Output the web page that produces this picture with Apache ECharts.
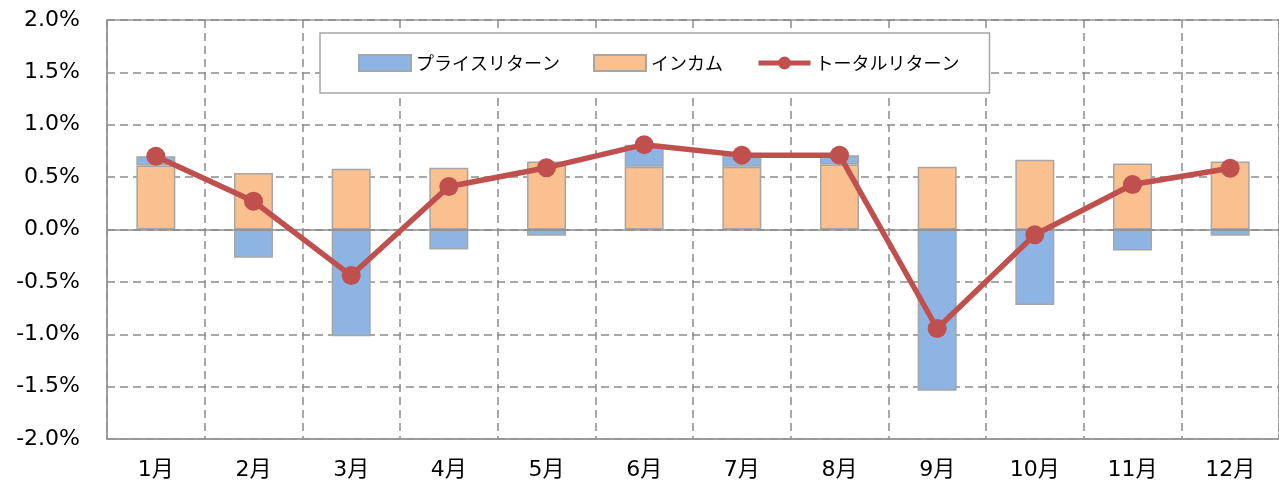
<!DOCTYPE html>
<html>
<head>
<meta charset="utf-8">
<script src="https://cdn.jsdelivr.net/npm/echarts@6/dist/echarts.min.js"></script>
<style>
html, body { margin: 0; padding: 0; background: #fff; }
#chart { width: 1279px; height: 491px; }
</style>
</head>
<body>
<div id="chart"></div>
<script>
// months
var months = ['1月', '2月', '3月', '4月', '5月', '6月', '7月', '8月', '9月', '10月', '11月', '12月'];
// values in %
var income = [0.61, 0.54, 0.58, 0.59, 0.65, 0.60, 0.60, 0.62, 0.60, 0.665, 0.63, 0.65];
var price = [0.09, -0.27, -1.02, -0.19, -0.06, 0.21, 0.11, 0.09, -1.54, -0.72, -0.20, -0.06];
var total = [0.70, 0.27, -0.44, 0.41, 0.59, 0.81, 0.71, 0.71, -0.945, -0.05, 0.43, 0.585];

var names = ['プライスリターン', 'インカム', 'トータルリターン'];

var chart = echarts.init(document.getElementById('chart'));

var font = "'DejaVu Sans', 'Noto Sans CJK JP', sans-serif";
var gridColor = '#8c8c8c';
var barBorder = '#a6a6a6';

option = {
    animation: false,
    textStyle: { fontFamily: font },
    legend: {
        data: [
            { name: names[0], icon: 'rect' },
            { name: names[1], icon: 'rect' },
            { name: names[2], lineStyle: { width: 5 } }
        ],
        left: 320,
        top: 33,
        padding: [21, 30, 21, 38],
        itemWidth: 52,
        itemHeight: 16,
        itemGap: 33,
        borderColor: '#a6a6a6',
        borderWidth: 1.5,
        backgroundColor: '#fff',
        textStyle: {
            fontFamily: "'Noto Sans CJK JP', sans-serif",
            fontSize: 18,
            color: '#000'
        }
    },
    grid: {
        left: 107,
        top: 20,
        width: 1179,
        height: 419,
        show: true,
        borderColor: '#999',
        borderWidth: 1.5,
        backgroundColor: 'transparent'
    },
    xAxis: {
        type: 'category',
        data: months,
        boundaryGap: true,
        axisLine: { onZero: false, lineStyle: { color: '#999', width: 1.5 } },
        axisTick: { show: false },
        axisLabel: { color: '#000', fontSize: 22, margin: 20, fontFamily: font },
        splitLine: {
            show: true,
            lineStyle: { color: gridColor, width: 1.5, type: [8, 5] }
        }
    },
    yAxis: {
        type: 'value',
        min: -2,
        max: 2,
        interval: 0.5,
        axisLine: { show: true, lineStyle: { color: '#999', width: 1.5 } },
        axisTick: { show: false },
        axisLabel: {
            color: '#000',
            fontSize: 22,
            margin: 27,
            fontFamily: font,
            formatter: function (v) { return v.toFixed(1) + '%'; }
        },
        splitLine: {
            lineStyle: { color: gridColor, width: 1.5, type: [8, 5] }
        }
    },
    series: [{
        name: names[1],
        type: 'bar',
        stack: 'ret',
        barWidth: 39,
        itemStyle: { color: '#fac090', borderColor: barBorder, borderWidth: 1.5 },
        data: income,
        markLine: {
            silent: true,
            symbol: 'none',
            label: { show: false },
            lineStyle: { color: '#8c8c8c', width: 1.5, type: 'solid' },
            data: [{ yAxis: 0 }]
        }
    }, {
        name: names[0],
        type: 'bar',
        stack: 'ret',
        barWidth: 39,
        itemStyle: { color: '#8eb4e3', borderColor: barBorder, borderWidth: 1.5 },
        data: price
    }, {
        name: names[2],
        type: 'line',
        z: 5,
        symbol: 'circle',
        symbolSize: 19,
        lineStyle: { color: '#c0504d', width: 5.5 },
        itemStyle: { color: '#c0504d' },
        data: total
    }]
};

chart.setOption(option);
</script>
</body>
</html>
